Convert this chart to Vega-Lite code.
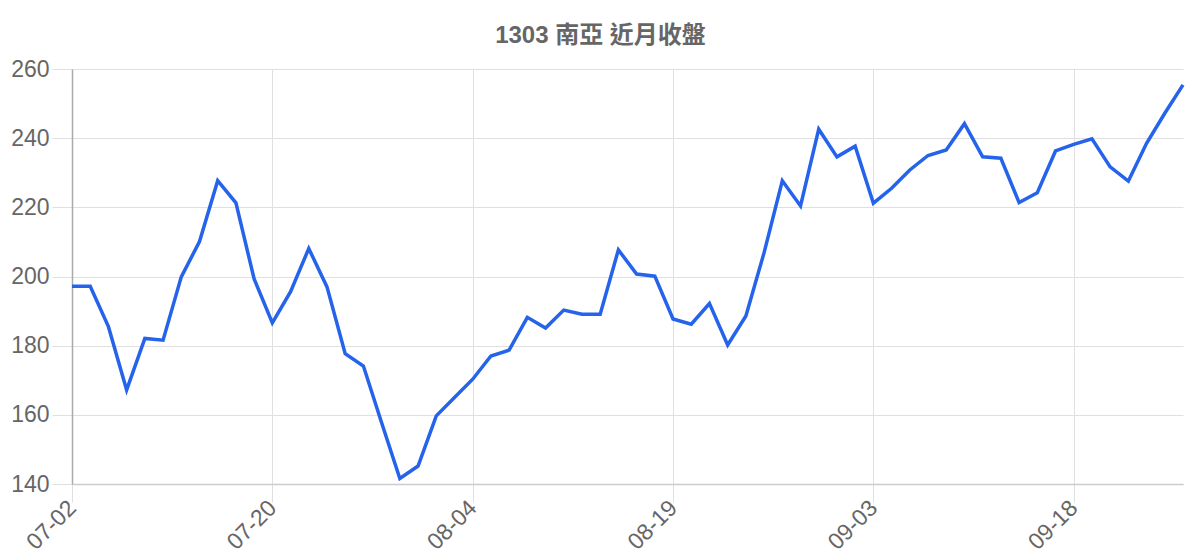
{
  "$schema": "https://vega.github.io/schema/vega-lite/v6.json",
  "width": 1111,
  "height": 415,
  "autosize": {"type": "none"},
  "padding": {"left": 72, "top": 69, "right": 17, "bottom": 76},
  "background": "white",
  "title": {
    "text": "1303 南亞 近月收盤",
    "anchor": "middle",
    "frame": "group",
    "dx": -27,
    "dy": 34,
    "offset": 25,
    "baseline": "alphabetic",
    "font": "Liberation Sans, Noto Sans CJK TC",
    "fontSize": 24,
    "fontWeight": "bold",
    "color": "#666666"
  },
  "data": {
    "values": [
      {"date": "07-02", "close": 197.2},
      {"date": "07-03", "close": 197.2},
      {"date": "07-04", "close": 185.5},
      {"date": "07-07", "close": 167.2},
      {"date": "07-08", "close": 182.1},
      {"date": "07-09", "close": 181.6},
      {"date": "07-10", "close": 199.9},
      {"date": "07-11", "close": 210.1},
      {"date": "07-14", "close": 227.7},
      {"date": "07-15", "close": 221.3},
      {"date": "07-16", "close": 199.3},
      {"date": "07-20", "close": 186.6},
      {"date": "07-21", "close": 195.6},
      {"date": "07-22", "close": 208.1},
      {"date": "07-23", "close": 197.0},
      {"date": "07-24", "close": 177.7},
      {"date": "07-25", "close": 174.1},
      {"date": "07-28", "close": 157.7},
      {"date": "07-29", "close": 141.6},
      {"date": "07-30", "close": 145.2},
      {"date": "07-31", "close": 159.7},
      {"date": "08-01", "close": 165.0},
      {"date": "08-04", "close": 170.3},
      {"date": "08-05", "close": 177.0},
      {"date": "08-06", "close": 178.7},
      {"date": "08-07", "close": 188.2},
      {"date": "08-08", "close": 185.1},
      {"date": "08-11", "close": 190.3},
      {"date": "08-12", "close": 189.1},
      {"date": "08-13", "close": 189.1},
      {"date": "08-14", "close": 207.7},
      {"date": "08-15", "close": 200.7},
      {"date": "08-18", "close": 200.1},
      {"date": "08-19", "close": 187.7},
      {"date": "08-20", "close": 186.2},
      {"date": "08-21", "close": 192.2},
      {"date": "08-22", "close": 180.2},
      {"date": "08-25", "close": 188.6},
      {"date": "08-26", "close": 206.9},
      {"date": "08-27", "close": 227.7},
      {"date": "08-28", "close": 220.4},
      {"date": "08-29", "close": 242.6},
      {"date": "09-01", "close": 234.6},
      {"date": "09-02", "close": 237.7},
      {"date": "09-03", "close": 221.2},
      {"date": "09-04", "close": 225.5},
      {"date": "09-05", "close": 230.8},
      {"date": "09-08", "close": 235.0},
      {"date": "09-09", "close": 236.6},
      {"date": "09-10", "close": 244.2},
      {"date": "09-11", "close": 234.6},
      {"date": "09-12", "close": 234.2},
      {"date": "09-15", "close": 221.4},
      {"date": "09-16", "close": 224.2},
      {"date": "09-17", "close": 236.3},
      {"date": "09-18", "close": 238.2},
      {"date": "09-19", "close": 239.8},
      {"date": "09-22", "close": 231.7},
      {"date": "09-23", "close": 227.6},
      {"date": "09-24", "close": 238.5},
      {"date": "09-25", "close": 247.2},
      {"date": "09-26", "close": 255.4}
    ]
  },
  "mark": {"type": "line", "color": "#2563eb", "strokeWidth": 3.5, "strokeJoin": "miter"},
  "encoding": {
    "x": {
      "field": "date",
      "type": "ordinal",
      "sort": null,
      "scale": {"type": "point", "padding": 0},
      "axis": {
        "title": null,
        "values": ["07-02", "07-20", "08-04", "08-19", "09-03", "09-18"],
        "labelAngle": -45,
        "labelAlign": "right",
        "labelBaseline": "middle",
        "labelPadding": 2,
        "tickSize": 18,
        "tickColor": "#e0e0e0",
        "domainColor": "#cccccc",
        "gridColor": "#e0e0e0"
      }
    },
    "y": {
      "field": "close",
      "type": "quantitative",
      "scale": {"domain": [140, 260], "nice": false, "zero": false},
      "axis": {
        "title": null,
        "values": [140, 160, 180, 200, 220, 240, 260],
        "tickSize": 20,
        "labelPadding": 3,
        "tickColor": "#e0e0e0",
        "domainColor": "#aaaaaa",
        "gridColor": "#e0e0e0"
      }
    }
  },
  "config": {
    "font": "Liberation Sans",
    "view": {"stroke": null},
    "axis": {
      "grid": true,
      "gridWidth": 1,
      "labelFont": "Liberation Sans",
      "labelFontSize": 23,
      "labelColor": "#666666",
      "domainWidth": 1.5,
      "tickWidth": 1
    }
  }
}
